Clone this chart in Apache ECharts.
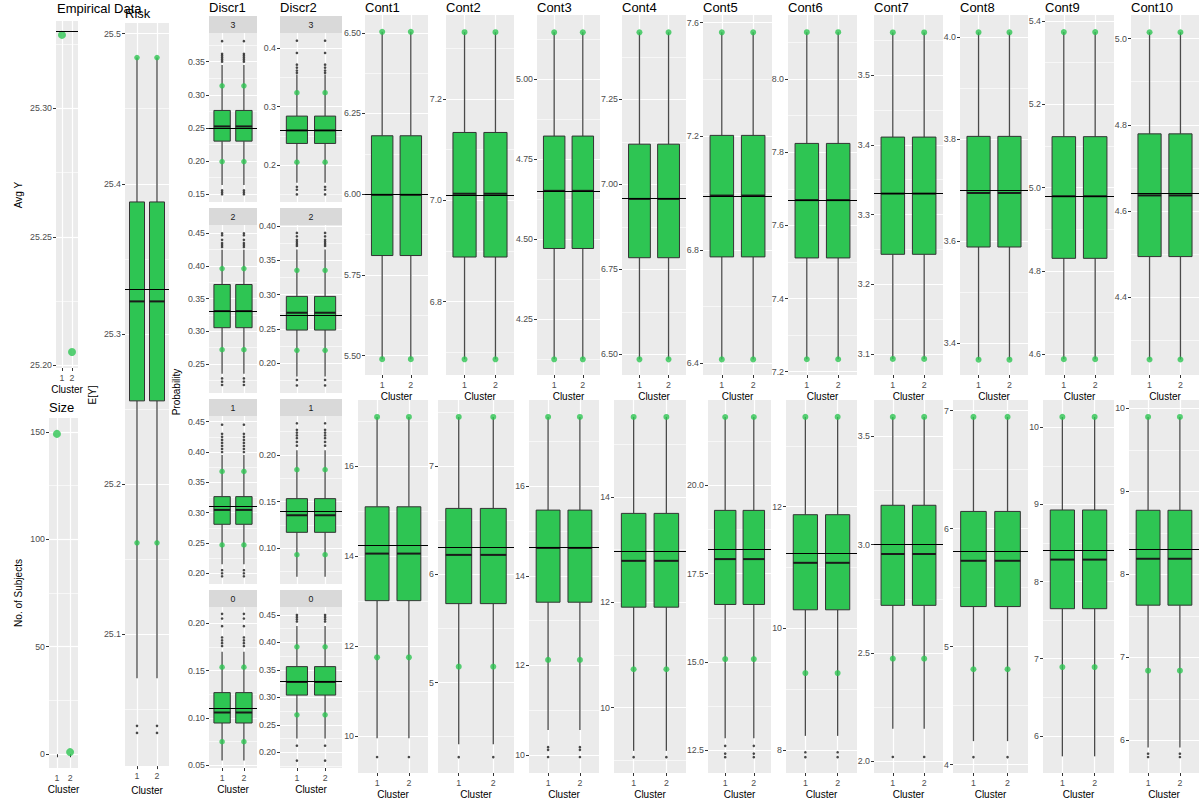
<!DOCTYPE html>
<html><head><meta charset="utf-8">
<script src="https://cdn.jsdelivr.net/npm/echarts@6/dist/echarts.min.js"></script>
<style>html,body{margin:0;padding:0;background:#fff}#c{width:1200px;height:800px}</style>
</head><body><div id="c"></div>
<script>
// ---------------- DATA ----------------
const clusters = ['1', '2'];

// Empirical Data
const empTicks = ['25.20', '25.25', '25.30'];
const empRange = [25.199, 25.334];
const empAvgY = [25.3286, 25.2052];
const empMean = 25.3278;

// Size
const sizeTicks = ['0', '50', '100', '150'];
const sizeRange = [-6.4, 156.4];
const sizeN = [149, 1];

// Risk  (box = [lower whisker, Q1, median, Q3, upper whisker])
const riskTicks = ['25.1', '25.2', '25.3', '25.4', '25.5'];
const riskRange = [25.0124, 25.507];
const riskBox = [25.0708, 25.2555, 25.3217, 25.3879, 25.484];
const riskDots = [25.161, 25.484];
const riskMean = 25.3275;
const riskOut = [25.0392, 25.0345];

// Discrete variables, facets top to bottom
const facetLabels = ['3', '2', '1', '0'];

const discr1Ticks = [
  ['0.15', '0.20', '0.25', '0.30', '0.35'],
  ['0.25', '0.30', '0.35', '0.40', '0.45'],
  ['0.20', '0.25', '0.30', '0.35', '0.40', '0.45'],
  ['0.05', '0.10', '0.15', '0.20']
];
const discr1Range = [[0.1384, 0.3933], [0.2057, 0.4627], [0.1823, 0.4594], [0.0472, 0.2172]];
const discr1Box = [
  [0.164, 0.2302, 0.2524, 0.2765, 0.345],
  [0.235, 0.3056, 0.3310, 0.3717, 0.425],
  [0.215, 0.2808, 0.3045, 0.3264, 0.395],
  [0.055, 0.0947, 0.1058, 0.1268, 0.170]
];
const discr1Dots = [[0.1994, 0.3136], [0.2719, 0.396], [0.2467, 0.368], [0.075, 0.1537]];
const discr1Mean = [0.2539, 0.3325, 0.3061, 0.111];
const discr1Out = [
  [0.381, 0.362, 0.359, 0.356, 0.353, 0.35, 0.156, 0.153, 0.15],
  [0.45, 0.447, 0.44, 0.435, 0.432, 0.429, 0.228, 0.223, 0.218],
  [0.445, 0.43, 0.425, 0.42, 0.415, 0.41, 0.405, 0.40, 0.205, 0.2, 0.195],
  [0.21, 0.205, 0.197, 0.185, 0.182, 0.179, 0.176]
];

const discr2Ticks = [
  ['0.2', '0.3', '0.4'],
  ['0.20', '0.25', '0.30', '0.35', '0.40'],
  ['0.10', '0.15', '0.20'],
  ['0.20', '0.25', '0.30', '0.35', '0.40', '0.45']
];
const discr2Range = [[0.137, 0.4262], [0.157, 0.4015], [0.0617, 0.2418], [0.1715, 0.4645]];
const discr2Box = [
  [0.170, 0.2372, 0.2595, 0.284, 0.355],
  [0.181, 0.2486, 0.2738, 0.2976, 0.366],
  [0.0696, 0.1171, 0.1354, 0.1532, 0.205],
  [0.225, 0.3042, 0.3281, 0.356, 0.43]
];
const discr2Dots = [[0.2051, 0.324], [0.2192, 0.3356], [0.0931, 0.1843], [0.2682, 0.392]];
const discr2Mean = [0.2617, 0.2747, 0.1364, 0.3293];
const discr2Out = [
  [0.413, 0.392, 0.372, 0.367, 0.362, 0.358, 0.163, 0.158, 0.15],
  [0.39, 0.385, 0.38, 0.377, 0.374, 0.371, 0.176, 0.168],
  [0.234, 0.227, 0.224, 0.221, 0.218, 0.214, 0.21],
  [0.45, 0.446, 0.442, 0.438, 0.212, 0.185]
];

// Continuous variables
const contNames = ['Cont1', 'Cont2', 'Cont3', 'Cont4', 'Cont5', 'Cont6', 'Cont7', 'Cont8', 'Cont9', 'Cont10'];

// top row
const contTicksTop = [
  ['5.50', '5.75', '6.00', '6.25', '6.50'],
  ['6.8', '7.0', '7.2'],
  ['4.25', '4.50', '4.75', '5.00'],
  ['6.50', '6.75', '7.00', '7.25'],
  ['6.4', '6.8', '7.2', '7.6'],
  ['7.2', '7.4', '7.6', '7.8', '8.0'],
  ['3.1', '3.2', '3.3', '3.4', '3.5'],
  ['3.4', '3.6', '3.8', '4.0'],
  ['4.6', '4.8', '5.0', '5.2', '5.4'],
  ['4.4', '4.6', '4.8', '5.0']
];
const contRangeTop = [
  [5.440, 6.555], [6.655, 7.366], [4.076, 5.200], [6.439, 7.498], [6.359, 7.627],
  [7.191, 8.175], [3.070, 3.586], [3.337, 4.043], [4.550, 5.414], [4.219, 5.055]
];
const contBoxTop = [
  [5.489, 5.810, 5.998, 6.181, 6.503],
  [6.686, 6.888, 7.013, 7.134, 7.332],
  [4.125, 4.471, 4.651, 4.822, 5.146],
  [6.485, 6.784, 6.957, 7.118, 7.447],
  [6.414, 6.775, 6.991, 7.203, 7.566],
  [7.234, 7.511, 7.669, 7.824, 8.128],
  [3.093, 3.243, 3.330, 3.411, 3.561],
  [3.367, 3.588, 3.694, 3.805, 4.009],
  [4.588, 4.830, 4.979, 5.122, 5.373],
  [4.255, 4.494, 4.636, 4.779, 5.015]
];
const contDotsTop = [
  [5.489, 6.503], [6.686, 7.332], [4.125, 5.146], [6.485, 7.447], [6.414, 7.566],
  [7.234, 8.128], [3.093, 3.561], [3.367, 4.009], [4.588, 5.373], [4.255, 5.015]
];
const contMeanTop = [5.997, 7.012, 4.647, 6.957, 6.991, 7.669, 3.328, 3.6955, 4.978, 4.639];

// bottom row
const contTicksBot = [
  ['10', '12', '14', '16'],
  ['5', '6', '7'],
  ['10', '12', '14', '16'],
  ['10', '12', '14'],
  ['12.5', '15.0', '17.5', '20.0'],
  ['8', '10', '12'],
  ['2.0', '2.5', '3.0', '3.5'],
  ['4', '5', '6', '7'],
  ['6', '7', '8', '9', '10'],
  ['6', '7', '8', '9', '10']
];
const contRangeBot = [
  [9.174, 17.477], [4.163, 7.614], [9.593, 17.927], [8.76, 15.836], [11.862, 22.41],
  [7.619, 13.756], [1.946, 3.668], [3.93, 7.09], [5.519, 10.352], [5.608, 10.1]
];
const contBoxBot = [
  [9.95, 13.01, 14.058, 15.10, 17.10],
  [4.43, 5.730, 6.181, 6.611, 7.457],
  [10.556, 13.409, 14.622, 15.467, 17.548],
  [9.18, 11.906, 12.785, 13.685, 15.515],
  [12.846, 16.628, 17.911, 19.289, 21.93],
  [8.23, 10.304, 11.077, 11.869, 13.478],
  [2.15, 2.72, 2.957, 3.182, 3.59],
  [4.2, 5.34, 5.728, 6.146, 6.947],
  [5.735, 7.648, 8.284, 8.927, 10.133],
  [5.916, 7.629, 8.188, 8.772, 9.896]
];
const contDotsBot = [
  [11.748, 17.10], [5.147, 7.457], [12.12, 17.548], [10.728, 15.515], [15.084, 21.93],
  [9.263, 13.478], [2.474, 3.59], [4.809, 6.947], [6.892, 10.133], [6.84, 9.896]
];
const contMeanBot = [14.25, 6.25, 14.63, 12.96, 18.19, 11.23, 2.995, 5.812, 8.40, 8.30];
const contOutBot = [
  [9.53], [4.31], [10.17, 10.11, 9.95], [9.06], [12.63, 12.41, 12.31],
  [7.96, 7.88], [2.02], [4.065], [], [5.84, 5.80]
];

// ---------------- LAYOUT / STYLE ----------------
const GREEN = '#2EC553';
const FONT = "'Liberation Sans', Arial, Helvetica, sans-serif";
const TICK_COLOR = '#4D4D4D';

const contLeftTop = [365, 446, 537, 622, 703, 788, 874, 960, 1045, 1131];
const contRightTop = [428, 514, 600, 686, 772, 857, 943, 1028, 1114, 1199];
const contLeftBot = [358, 438, 529, 614, 708, 786, 874, 953, 1043, 1129];
const contRightBot = [428, 514, 599, 686, 771, 857, 943, 1028, 1114, 1199];
const TOP_T = 15, TOP_B = 375, BOT_T = 400, BOT_B = 775;
const facetTops = [33, 225, 416, 607];
const facetBots = [202, 393, 584, 768];
const STRIP_H = 17;
const D1 = [209, 257], D2 = [280, 342];

const grids = [], xAxes = [], yAxes = [], series = [], graphics = [];

function minorTicks(majors, range) {
  const step = majors[1] - majors[0];
  let v = majors[0] - step / 2;
  while (v - step > range[0]) v -= step;
  const out = [];
  for (; v < range[1]; v += step) {
    if (v > range[0]) out.push(+v.toFixed(8));
  }
  return out;
}

function addPanel(o) {
  const g = grids.length;
  grids.push({
    left: o.l, top: o.t, width: o.r - o.l, height: o.b - o.t,
    show: true, backgroundColor: '#EBEBEB', borderWidth: 0, containLabel: false
  });
  xAxes.push({
    gridIndex: g, type: 'value', min: 0.4, max: 2.6,
    axisLine: { show: false },
    axisTick: { show: o.xLabels, length: 3, lineStyle: { color: '#333', width: 1 }, customValues: [1, 2] },
    axisLabel: {
      show: o.xLabels, customValues: [1, 2], margin: 5, fontSize: 8.8, color: TICK_COLOR, fontFamily: FONT,
      formatter: v => clusters[Math.round(v) - 1]
    },
    splitLine: { show: true, lineStyle: { color: '#FFFFFF', width: 1.2 } },
    name: o.xLabels ? 'Cluster' : '', nameLocation: 'middle', nameGap: 16,
    nameTextStyle: { fontSize: 10, color: '#000', fontFamily: FONT }
  });
  const nums = o.ticks.map(Number);
  yAxes.push({
    gridIndex: g, type: 'value', min: o.range[0], max: o.range[1], position: 'left',
    axisLine: { show: false },
    axisTick: { show: true, length: 3, lineStyle: { color: '#333', width: 1 }, customValues: nums },
    axisLabel: {
      customValues: nums, margin: 4, fontSize: 8.8, color: TICK_COLOR, fontFamily: FONT,
      formatter: v => { const i = nums.findIndex(n => Math.abs(n - v) < 1e-9); return i < 0 ? '' : o.ticks[i]; }
    },
    splitLine: { show: true, lineStyle: { color: '#FFFFFF', width: 1.2 } }
  });
  const mins = minorTicks(nums, o.range);
  yAxes.push({
    gridIndex: g, type: 'value', min: o.range[0], max: o.range[1], position: 'right',
    axisLine: { show: false },
    axisTick: { show: false, customValues: mins },
    axisLabel: { show: false, customValues: mins },
    splitLine: { show: true, lineStyle: { color: '#FFFFFF', width: 0.6 } }
  });
  return g;
}

function meanLine(m) {
  return {
    silent: true, symbol: ['none', 'none'], label: { show: false },
    lineStyle: { color: '#000', width: 1, type: 'solid' },
    emphasis: { disabled: true }, animation: false,
    data: [{ yAxis: m }]
  };
}

function renderBox(params, api) {
  const x = api.value(0);
  const pLo = api.coord([x, api.value(1)]);
  const pQ1 = api.coord([x, api.value(2)]);
  const pMed = api.coord([x, api.value(3)]);
  const pQ3 = api.coord([x, api.value(4)]);
  const pHi = api.coord([x, api.value(5)]);
  const bw = api.size([0.75, 0])[0];
  const wStyle = { stroke: '#4a4a4a', lineWidth: 1.3 };
  return {
    type: 'group', children: [
      { type: 'line', shape: { x1: pHi[0], y1: pHi[1], x2: pQ3[0], y2: pQ3[1] }, style: wStyle },
      { type: 'line', shape: { x1: pQ1[0], y1: pQ1[1], x2: pLo[0], y2: pLo[1] }, style: wStyle },
      { type: 'rect', shape: { x: pQ3[0] - bw / 2, y: pQ3[1], width: bw, height: pQ1[1] - pQ3[1] },
        style: { fill: GREEN, stroke: '#333', lineWidth: 1 } },
      { type: 'line', shape: { x1: pMed[0] - bw / 2, y1: pMed[1], x2: pMed[0] + bw / 2, y2: pMed[1] },
        style: { stroke: '#1a1a1a', lineWidth: 2 } }
    ]
  };
}

function addBox(g, box, dots, mean, outs, dotSize) {
  series.push({
    type: 'custom', xAxisIndex: g, yAxisIndex: 2 * g, renderItem: renderBox, silent: true,
    encode: { x: 0, y: [1, 2, 3, 4, 5] }, clip: false, z: 2,
    data: clusters.map((c, i) => [i + 1].concat(box))
  });
  if (outs.length) {
    series.push({
      type: 'scatter', xAxisIndex: g, yAxisIndex: 2 * g, silent: true, z: 3,
      symbolSize: 2.6, itemStyle: { color: '#1a1a1a' },
      data: clusters.flatMap((c, i) => outs.map(v => [i + 1, v]))
    });
  }
  series.push({
    type: 'scatter', xAxisIndex: g, yAxisIndex: 2 * g, silent: true, z: 4,
    symbolSize: dotSize, itemStyle: { color: GREEN },
    data: clusters.flatMap((c, i) => dots.map(v => [i + 1, v])),
    markLine: meanLine(mean)
  });
}

function text(str, x, y, size, opts) {
  opts = opts || {};
  graphics.push({
    type: 'text', x: x, y: y, rotation: opts.rot || 0, silent: true, z: 10,
    style: {
      text: str, fontSize: size, fontFamily: FONT, fill: opts.color || '#000',
      align: opts.align || 'left', verticalAlign: 'middle'
    }
  });
}

// Empirical Data
let g = addPanel({ l: 56, r: 78, t: 21, b: 368, ticks: empTicks, range: empRange, xLabels: true });
series.push({
  type: 'scatter', xAxisIndex: g, yAxisIndex: 2 * g, silent: true, z: 4,
  symbolSize: 8, itemStyle: { color: GREEN },
  data: clusters.map((c, i) => [i + 1, empAvgY[i]]),
  markLine: meanLine(empMean)
});
text('Empirical Data', 57, 8, 13);
text('Avg Y', 18, 195, 10, { rot: Math.PI / 2, align: 'center' });

// Size
g = addPanel({ l: 49, r: 78, t: 418, b: 768, ticks: sizeTicks, range: sizeRange, xLabels: true });
series.push({
  type: 'scatter', xAxisIndex: g, yAxisIndex: 2 * g, silent: true, z: 4,
  symbolSize: 8, itemStyle: { color: GREEN },
  data: clusters.map((c, i) => [i + 1, sizeN[i]])
});
text('Size', 49, 407, 13);
text('No. of Subjects', 18, 593, 10, { rot: Math.PI / 2, align: 'center' });

// Risk
g = addPanel({ l: 125, r: 169, t: 23, b: 768, ticks: riskTicks, range: riskRange, xLabels: true });
addBox(g, riskBox, riskDots, riskMean, riskOut, 5.5);
text('Risk', 125, 13, 13);
text('E[Y]', 92, 395, 10, { rot: Math.PI / 2, align: 'center' });

// Discr1 / Discr2
[[D1, discr1Ticks, discr1Range, discr1Box, discr1Dots, discr1Mean, discr1Out, 'Discr1'],
 [D2, discr2Ticks, discr2Range, discr2Box, discr2Dots, discr2Mean, discr2Out, 'Discr2']].forEach(d => {
  const [xr, ticks, ranges, boxes, dots, means, outs, name] = d;
  for (let f = 0; f < 4; f++) {
    const gg = addPanel({ l: xr[0], r: xr[1], t: facetTops[f], b: facetBots[f], ticks: ticks[f], range: ranges[f], xLabels: f === 3 });
    addBox(gg, boxes[f], dots[f], means[f], outs[f], 5.5);
    graphics.push({
      type: 'rect', silent: true, z: 5,
      shape: { x: xr[0], y: facetTops[f] - STRIP_H, width: xr[1] - xr[0], height: STRIP_H },
      style: { fill: '#D9D9D9' }
    });
    text(facetLabels[f], (xr[0] + xr[1]) / 2, facetTops[f] - STRIP_H / 2, 8.8, { align: 'center', color: '#1A1A1A' });
  }
  text(name, xr[0], 7, 13);
});
text('Probability', 176, 392, 10, { rot: Math.PI / 2, align: 'center' });

// Cont top and bottom rows
for (let k = 0; k < 10; k++) {
  const gt = addPanel({ l: contLeftTop[k], r: contRightTop[k], t: TOP_T, b: TOP_B, ticks: contTicksTop[k], range: contRangeTop[k], xLabels: true });
  addBox(gt, contBoxTop[k], contDotsTop[k], contMeanTop[k], [], 6);
  text(contNames[k], contLeftTop[k], 7, 13);
  const gb = addPanel({ l: contLeftBot[k], r: contRightBot[k], t: BOT_T, b: BOT_B, ticks: contTicksBot[k], range: contRangeBot[k], xLabels: true });
  addBox(gb, contBoxBot[k], contDotsBot[k], contMeanBot[k], contOutBot[k], 6);
}

const chart = echarts.init(document.getElementById('c'), null, { renderer: 'svg', width: 1200, height: 800 });
chart.setOption({
  animation: false,
  backgroundColor: '#FFFFFF',
  textStyle: { fontFamily: FONT },
  grid: grids, xAxis: xAxes, yAxis: yAxes, series: series,
  graphic: { elements: graphics }
});
</script></body></html>
